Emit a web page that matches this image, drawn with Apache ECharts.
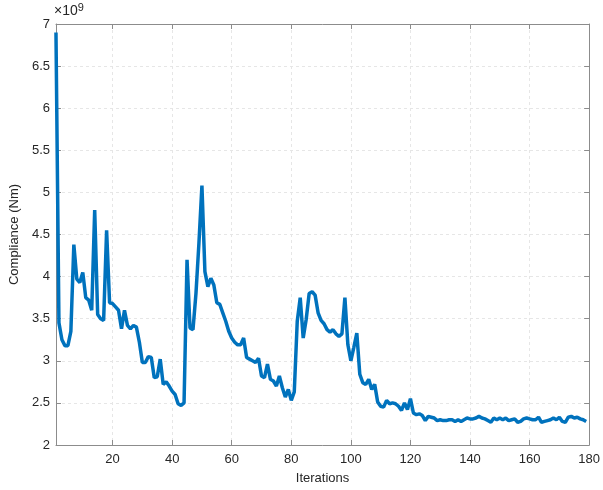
<!DOCTYPE html>
<html lang="en">
<head>
    <meta charset="UTF-8">
    <title>Compliance</title>
    <script src="https://cdn.jsdelivr.net/npm/echarts@6/dist/echarts.min.js"></script>
    <style>
        body { margin: 0; background: #fff; }
    </style>
</head>
<body>
<div id="chart" style="width:603px;height:490px;"></div>
<script>
    // compliance per iteration, in units of 1e9 Nm
    var compliance = [
        6.9, 3.45, 3.25, 3.18, 3.18, 3.35, 4.38, 3.97, 3.93, 4.05,
        3.75, 3.72, 3.6, 4.79, 3.55, 3.5, 3.48, 4.55, 3.69, 3.68,
        3.64, 3.6, 3.38, 3.6, 3.42, 3.38, 3.42, 3.40, 3.22, 2.98,
        2.98, 3.05, 3.04, 2.8, 2.81, 3.02, 2.72, 2.75, 2.7, 2.64,
        2.6, 2.49, 2.47, 2.5, 4.2, 3.39, 3.37, 3.8, 4.4, 5.08,
        4.06, 3.88, 3.98, 3.9, 3.69, 3.67, 3.57, 3.47, 3.35, 3.27,
        3.22, 3.19, 3.19, 3.27, 3.04, 3.02, 3.0, 2.98, 3.03, 2.82,
        2.8, 2.96, 2.78, 2.76, 2.7, 2.82, 2.68, 2.57, 2.66, 2.53,
        2.63, 3.47, 3.75, 3.27, 3.49, 3.8, 3.82, 3.78, 3.57, 3.48,
        3.44, 3.37, 3.34, 3.37, 3.32, 3.29, 3.32, 3.75, 3.19, 3.0,
        3.16, 3.33, 2.84, 2.74, 2.72, 2.78, 2.66, 2.72, 2.51, 2.46,
        2.45, 2.53, 2.49, 2.5, 2.49, 2.46, 2.41, 2.5, 2.42, 2.55,
        2.38, 2.36, 2.37, 2.35, 2.29, 2.34, 2.33, 2.32, 2.29, 2.3,
        2.29, 2.29, 2.30, 2.30, 2.28, 2.30, 2.28, 2.30, 2.32, 2.31,
        2.31, 2.32, 2.34, 2.32, 2.31, 2.29, 2.27, 2.32, 2.30, 2.32,
        2.30, 2.32, 2.29, 2.30, 2.31, 2.27, 2.28, 2.31, 2.32, 2.31,
        2.30, 2.30, 2.33, 2.27, 2.28, 2.29, 2.30, 2.32, 2.30, 2.33,
        2.28, 2.27, 2.33, 2.34, 2.32, 2.33, 2.31, 2.30, 2.28
    ];
    var iterMin = 1, iterMax = 180, iterStep = 20;
    var yMin = 2, yMax = 7, yStep = 0.5;

    var iterations = [];
    for (var i = iterMin; i <= iterMax; i++) iterations.push(String(i));

    function onTick(index, value) {
        return Number(value) % iterStep === 0;
    }

    var axisColor = '#8c8c8c';
    var textColor = '#262626';
    var font = 'Liberation Sans, Arial, sans-serif';

    var chart = echarts.init(document.getElementById('chart'));
    var option = {
        animation: false,
        grid: { left: 53, right: 13, top: 24, bottom: 42, containLabel: false },
        xAxis: [{
            type: 'category',
            data: iterations,
            boundaryGap: false,
            name: 'Iterations',
            nameLocation: 'middle',
            nameGap: 27,
            nameTextStyle: { color: textColor, fontSize: 13, fontFamily: font },
            axisLine: { lineStyle: { color: axisColor, width: 1 } },
            axisTick: { inside: true, length: 5, interval: onTick, lineStyle: { color: axisColor } },
            axisLabel: { interval: onTick, color: textColor, fontSize: 13, fontFamily: font, margin: 8 },
            splitLine: { show: true, interval: onTick, lineStyle: { color: '#e6e6e6', type: [3, 3] } }
        }, {
            type: 'category',
            data: iterations,
            boundaryGap: false,
            position: 'top',
            axisLine: { lineStyle: { color: axisColor, width: 1 } },
            axisTick: { inside: true, length: 5, interval: onTick, lineStyle: { color: axisColor } },
            axisLabel: { show: false },
            splitLine: { show: false }
        }],
        yAxis: [{
            type: 'value',
            min: yMin,
            max: yMax,
            interval: yStep,
            name: 'Compliance (Nm)',
            nameLocation: 'middle',
            nameGap: 30,
            nameTextStyle: { color: textColor, fontSize: 13, fontFamily: font },
            axisLine: { show: true, lineStyle: { color: axisColor, width: 1 } },
            axisTick: { show: true, inside: true, length: 5, lineStyle: { color: axisColor } },
            axisLabel: { color: textColor, fontSize: 13, fontFamily: font, margin: 6 },
            splitLine: { show: true, lineStyle: { color: '#e6e6e6', type: [3, 3] } }
        }, {
            type: 'value',
            min: yMin,
            max: yMax,
            interval: yStep,
            position: 'right',
            axisLine: { show: true, lineStyle: { color: axisColor, width: 1 } },
            axisTick: { show: true, inside: true, length: 5, lineStyle: { color: axisColor } },
            axisLabel: { show: false },
            splitLine: { show: false }
        }],
        graphic: [{
            type: 'text',
            left: 54,
            top: 2,
            style: {
                text: '\u00d710{sup|9}',
                fill: textColor,
                font: '14px ' + font,
                rich: { sup: { fontSize: 11, verticalAlign: 'top', padding: [0, 0, 7, 0], fill: textColor, fontFamily: font } }
            }
        }],
        series: [{
            type: 'line',
            data: compliance,
            showSymbol: false,
            lineStyle: { color: '#0072BD', width: 3.5 },
            itemStyle: { color: '#0072BD' }
        }]
    };
    chart.setOption(option);
</script>
</body>
</html>
